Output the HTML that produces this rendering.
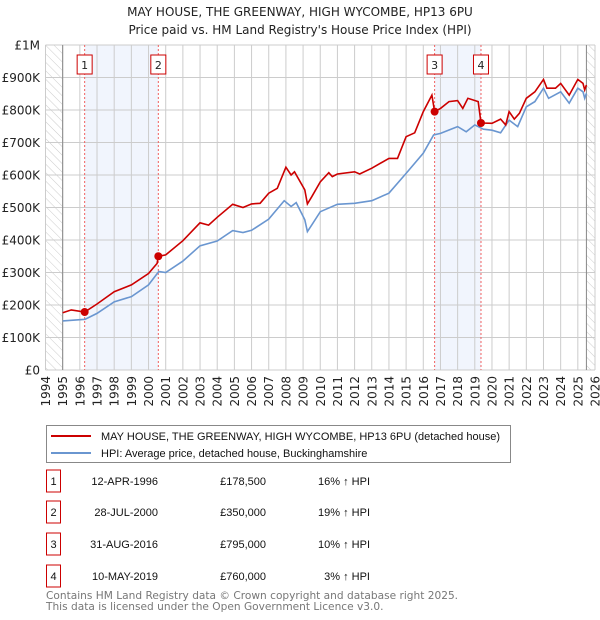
<!DOCTYPE html>
<html><head><meta charset="utf-8"><style>
body{margin:0;background:#fff;font-family:"Liberation Sans","DejaVu Sans",sans-serif;}
svg{display:block}
</style></head><body>
<svg id="c" width="600" height="620" xmlns="http://www.w3.org/2000/svg">
<defs><pattern id="hatch" width="6" height="6" patternUnits="userSpaceOnUse" patternTransform="rotate(-45)"><line x1="0" y1="0" x2="0" y2="6" stroke="#ccc" stroke-width="1"/></pattern></defs>
<text x="300" y="16" text-anchor="middle" font-size="12" font-family="DejaVu Sans, sans-serif" fill="#222">MAY HOUSE, THE GREENWAY, HIGH WYCOMBE, HP13 6PU</text>
<text x="300" y="34" text-anchor="middle" font-size="12" font-family="DejaVu Sans, sans-serif" fill="#222">Price paid vs. HM Land Registry's House Price Index (HPI)</text>
<g id="plot" font-family="DejaVu Sans, sans-serif"></g>
<g>
<rect x="46.5" y="425.5" width="464" height="37" fill="#fff" stroke="#888"/>
<line x1="51" y1="436" x2="91" y2="436" stroke="#cc0000" stroke-width="2"/>
<text x="101" y="440" font-size="11" fill="#111">MAY HOUSE, THE GREENWAY, HIGH WYCOMBE, HP13 6PU (detached house)</text>
<line x1="51" y1="453" x2="91" y2="453" stroke="#6a96d0" stroke-width="2"/>
<text x="101" y="457" font-size="11" fill="#111">HPI: Average price, detached house, Buckinghamshire</text>
</g>
<g id="tbl" font-size="11" fill="#111"></g>
<text x="46" y="599" font-size="10.6" font-family="DejaVu Sans, sans-serif" fill="#777">Contains HM Land Registry data © Crown copyright and database right 2025.</text>
<text x="46" y="610" font-size="10.6" font-family="DejaVu Sans, sans-serif" fill="#777">This data is licensed under the Open Government Licence v3.0.</text>
</svg>
<script>
const hpiYears=[1995,1996.3,1997,1998,1999,2000,2000.6,2001,2002,2003,2004,2004.9,2005.5,2006,2007,2007.9,2008.3,2008.6,2009.1,2009.25,2009.5,2010,2011,2012,2013,2014,2015,2016,2016.6,2017,2018,2018.5,2019,2019.5,2020,2020.5,2021,2021.5,2022,2022.5,2023,2023.3,2024,2024.5,2025,2025.3,2025.4,2025.5];
const hpiValues=[151,156,174,210,226,262,303,300,335,382,397,429,423,430,464,521,503,515,462,426,446,487,510,513,521,544,605,667,723,728,749,733,754,741,738,730,769,749,810,826,867,836,856,821,867,856,836,851];
const priceYears=[1995,1995.5,1996.28,1997,1998,1999,2000,2000.5,2000.57,2001,2002,2003,2003.5,2004,2004.9,2005.5,2006,2006.5,2007,2007.5,2008,2008.3,2008.5,2009.1,2009.25,2009.5,2010,2010.5,2010.7,2011,2012,2012.3,2013,2014,2014.5,2015,2015.5,2016,2016.5,2016.66,2017,2017.5,2018,2018.3,2018.6,2019.2,2019.36,2020,2020.5,2020.8,2021,2021.3,2021.6,2022,2022.5,2023,2023.2,2023.7,2024,2024.5,2025,2025.3,2025.4,2025.5];
const priceValues=[176,185,178.5,203,241,262,297,328,350,354,398,453,446,470,510,500,511,513,544,559,624,600,610,554,511,533,579,607,595,603,610,603,621,651,651,718,730,795,846,795,805,826,829,805,836,826,760,759,772,754,795,772,790,836,856,894,867,867,882,846,894,882,862,877];
const saleLabels=["1","2","3","4"];
const saleYears=[1996.28,2000.57,2016.66,2019.36];
const saleValues=[178.5,350,795,760];
const saleDates=["12-APR-1996","28-JUL-2000","31-AUG-2016","10-MAY-2019"];
const salePrices=["£178,500","£350,000","£795,000","£760,000"];
const saleHpi=["16% ↑ HPI","19% ↑ HPI","10% ↑ HPI","3% ↑ HPI"];
const yTicks=[0,100,200,300,400,500,600,700,800,900,1000];
const yTickLabels=["£0","£100K","£200K","£300K","£400K","£500K","£600K","£700K","£800K","£900K","£1M"];
const xTicks=[1994,1995,1996,1997,1998,1999,2000,2001,2002,2003,2004,2005,2006,2007,2008,2009,2010,2011,2012,2013,2014,2015,2016,2017,2018,2019,2020,2021,2022,2023,2024,2025,2026];

const X0=45.5,X1=595,Y0=370,Y1=45;
const x=y=>X0+(y-1994)/32*(X1-X0);
const yv=v=>Y0-v/1000*(Y0-Y1);
const NS="http://www.w3.org/2000/svg";
const plot=document.getElementById('plot');
function mk(tag,attrs,parent){const e=document.createElementNS(NS,tag);for(const k in attrs)e.setAttribute(k,attrs[k]);(parent||plot).appendChild(e);return e;}

for(let i=0;i<4;i+=2){const b=mk('rect',{x:x(saleYears[i]),y:Y1,width:x(saleYears[i+1])-x(saleYears[i]),height:Y0-Y1,fill:'#eef3fc',opacity:0.8});

}
const h1=mk('rect',{x:X0,y:Y1,width:x(1995)-X0,height:Y0-Y1,fill:'url(#hatch)'});


const h2=mk('rect',{x:x(2025.5),y:Y1,width:X1-x(2025.5),height:Y0-Y1,fill:'url(#hatch)'});


yTicks.forEach((t,i)=>{mk('line',{x1:X0,x2:X1,y1:yv(t),y2:yv(t),stroke:'#ccc'});
const l=mk('text',{x:40,y:yv(t)+4.5,'text-anchor':'end','font-size':12,fill:'#222'});l.textContent=yTickLabels[i];

});
xTicks.forEach(t=>{mk('line',{x1:x(t),x2:x(t),y1:Y1,y2:Y0,stroke:'#ccc'});
const l=mk('text',{x:0,y:0,'font-size':12,fill:'#222','text-anchor':'end',transform:`translate(${x(t)+4.5},376) rotate(-90)`});l.textContent=t;

});
mk('line',{x1:x(1995),x2:x(1995),y1:Y1,y2:Y0,stroke:'#888'});
mk('line',{x1:x(2025.5),x2:x(2025.5),y1:Y1,y2:Y0,stroke:'#888'});
saleYears.forEach((s,i)=>{mk('line',{x1:x(s),x2:x(s),y1:Y1,y2:Y0,stroke:'#f06060','stroke-dasharray':'2,2'});
const r=mk('rect',{x:x(s)-7.5,y:55,width:15,height:19,fill:'#fff',stroke:'#cc0000'});


const t=mk('text',{x:x(s),y:69,'text-anchor':'middle','font-size':11,fill:'#222'});t.textContent=saleLabels[i];});
function pts(ys,vs){return ys.map((a,i)=>x(a).toFixed(1)+','+yv(vs[i]).toFixed(1)).join(' ');}
const hl=mk('polyline',{points:pts(hpiYears,hpiValues),fill:'none',stroke:'#6a96d0','stroke-width':1.6});


const pl=mk('polyline',{points:pts(priceYears,priceValues),fill:'none',stroke:'#cc0000','stroke-width':1.6});


saleYears.forEach((s,i)=>{const c=mk('circle',{cx:x(s),cy:yv(saleValues[i]),r:4,fill:'#cc0000'});

});
const tbl=document.getElementById('tbl');
const rowsY=[482,513,545,577];
saleLabels.forEach((lab,i)=>{const y0=rowsY[i];
const r=mk('rect',{x:46.5,y:y0-12,width:14,height:22,fill:'#fff',stroke:'#cc0000'},tbl);


mk('text',{x:53.5,y:y0+3,'text-anchor':'middle'},tbl).textContent=lab;
const d=mk('text',{x:158,y:y0+3,'text-anchor':'end'},tbl);d.textContent=saleDates[i];


const p=mk('text',{x:266,y:y0+3,'text-anchor':'end'},tbl);p.textContent=salePrices[i];


const h=mk('text',{x:370,y:y0+3,'text-anchor':'end'},tbl);h.textContent=saleHpi[i];

});
</script>
</body></html>
